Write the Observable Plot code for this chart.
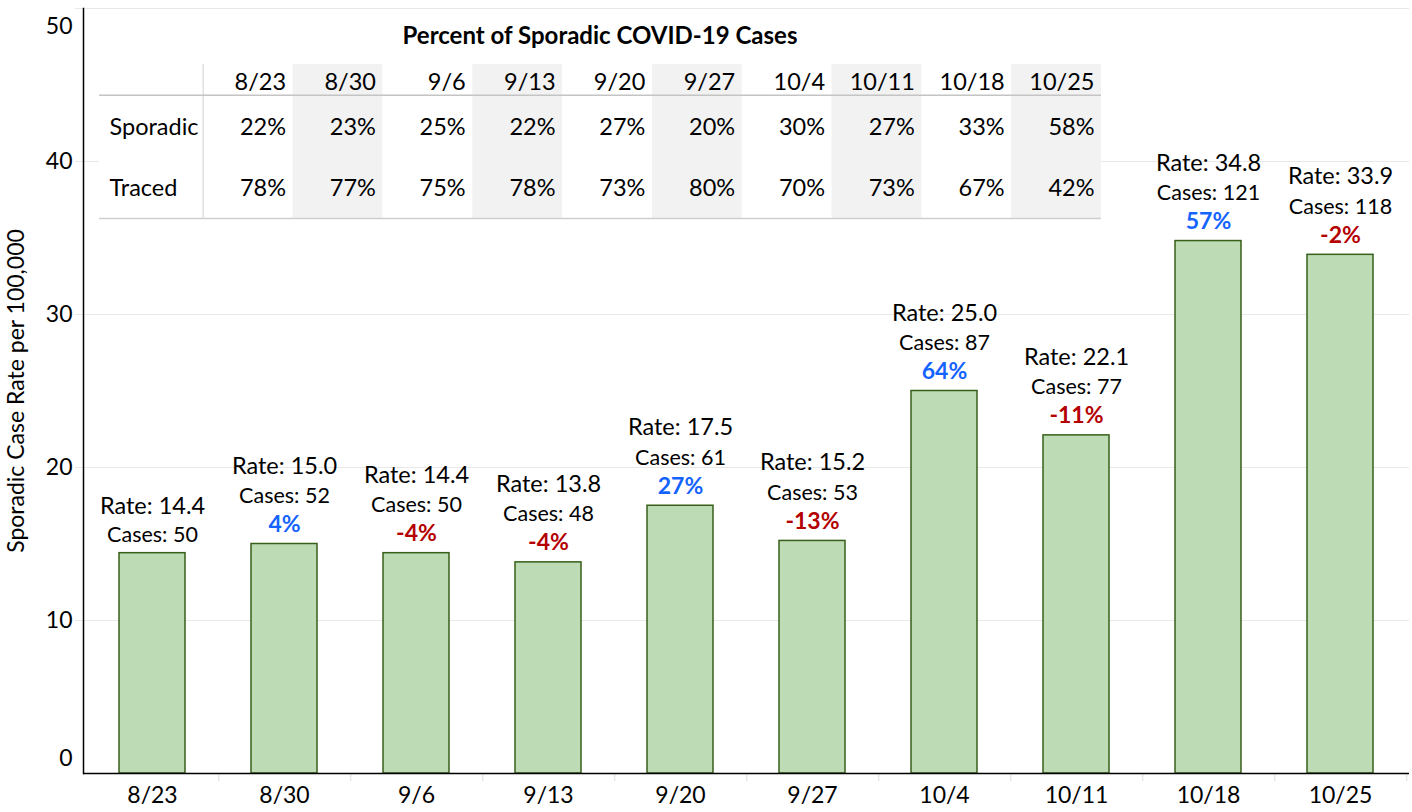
<!DOCTYPE html>
<html>
<head>
<meta charset="utf-8">
<script src="https://cdn.jsdelivr.net/npm/d3@7"></script>
<script src="https://cdn.jsdelivr.net/npm/@observablehq/plot@0.6"></script>
<style>
  html, body { margin: 0; padding: 0; background: #fff; }
  #wrap { position: relative; width: 1412px; height: 812px; font-family: Lato, sans-serif; }
  #wrap svg { position: absolute; }
  #ttl { position: absolute; left: 99px; top: 20px; width: 1002px; text-align: center;
         font: bold 24px Lato, sans-serif; color: #000; z-index: 3; }
</style>
</head>
<body>
<div id="wrap"><div id="ttl">Percent of Sporadic COVID-19 Cases</div></div>
<script>
// ---- data ----
const dates = ["8/23","8/30","9/6","9/13","9/20","9/27","10/4","10/11","10/18","10/25"];
const rates = [14.4, 15.0, 14.4, 13.8, 17.5, 15.2, 25.0, 22.1, 34.8, 33.9];
const cases = [50, 52, 50, 48, 61, 53, 87, 77, 121, 118];
const changes = [null, 4, -4, -4, 27, -13, 64, -11, 57, -2];
const sporadicPct = [22, 23, 25, 22, 27, 20, 30, 27, 33, 58];
const tracedPct = [78, 77, 75, 78, 73, 80, 70, 73, 67, 42];
const rowLabels = ["Sporadic", "Traced"];
const yTicks = [0, 10, 20, 30, 40, 50];
const yLabel = "Sporadic Case Rate per 100,000";

const rows = dates.map((d, i) => ({date: d, rate: rates[i], cases: cases[i], change: changes[i], i}));
const withChg = rows.filter(d => d.change != null);
const noChg = rows.filter(d => d.change == null);

const W = 1412, H = 812, mL = 83, mR = 3;
const step = (W - mL - mR) / dates.length;
const BLUE = "#1463ff", RED = "#b40000";

const main = Plot.plot({
  width: W, height: H,
  marginLeft: mL, marginRight: mR, marginTop: 8, marginBottom: 39,
  style: {fontFamily: "Lato, sans-serif", fontSize: "22px", color: "#000", background: "transparent", overflow: "visible"},
  x: {domain: dates, paddingInner: 0.5, paddingOuter: 0.25, label: null},
  y: {domain: [0, 50], label: null},
  marks: [
    Plot.gridY(yTicks.slice(1), {stroke: "#e8e8e8", strokeOpacity: 1}),
    Plot.axisY(yTicks.slice(1), {tickSize: 8, text: null, stroke: "#e8e8e8", label: null}),
    Plot.axisY(yTicks.slice(1, -1), {tickSize: 0, tickPadding: 11, fontSize: 23, label: null}),
    Plot.axisY(yTicks.slice(0, 1), {tickSize: 0, tickPadding: 11, fontSize: 23, dy: -15, label: null}),
    Plot.axisY(yTicks.slice(-1), {tickSize: 0, tickPadding: 11, fontSize: 23, dy: 18, label: null}),
    Plot.axisY([], {label: yLabel, labelAnchor: "center", labelOffset: 76, labelArrow: false, fontSize: 23}),
    Plot.axisX({tickSize: 0, tickPadding: 13, fontSize: 23, label: null}),
    Plot.axisX({text: null, tickSize: 8, stroke: "#dcdcdc", dx: step / 2, label: null}),
    Plot.barY(rows, {x: "date", y: "rate", fill: "#bddcb5", stroke: "#375f18", strokeWidth: 1.5}),
    Plot.ruleY([0], {stroke: "#000", strokeWidth: 1.5}),
    Plot.frame({anchor: "left", stroke: "#000", strokeWidth: 1.5}),
    Plot.text(withChg, {x: "date", y: "rate", text: d => `Rate: ${d.rate.toFixed(1)}`, dy: -78, fontSize: 23.5, fill: "#000"}),
    Plot.text(noChg, {x: "date", y: "rate", text: d => `Rate: ${d.rate.toFixed(1)}`, dy: -47, fontSize: 23.5, fill: "#000"}),
    Plot.text(withChg, {x: "date", y: "rate", text: d => `Cases: ${d.cases}`, dy: -48, fontSize: 21.5, fill: "#000"}),
    Plot.text(noChg, {x: "date", y: "rate", text: d => `Cases: ${d.cases}`, dy: -18, fontSize: 21.5, fill: "#000"}),
    Plot.text(withChg.filter(d => d.change > 0), {x: "date", y: "rate", text: d => `${d.change}%`, dy: -19.5, fontSize: 23, fontWeight: "bold", fill: BLUE}),
    Plot.text(withChg.filter(d => d.change < 0), {x: "date", y: "rate", text: d => `${d.change}%`, dy: -19.5, fontSize: 23, fontWeight: "bold", fill: RED})
  ]
});
main.style.left = "0px"; main.style.top = "0px";

// ---- table ----
const cols = dates.map((d, i) => ({date: d, i, sp: sporadicPct[i], tr: tracedPct[i]}));
const labelStart = -1.155;
const tbl = Plot.plot({
  width: 1002, height: 156,
  marginTop: 0, marginLeft: 0, marginRight: 0, marginBottom: 2,
  style: {fontFamily: "Lato, sans-serif", fontSize: "23.5px", color: "#000", background: "#fff", overflow: "visible"},
  x: {domain: [labelStart, dates.length], axis: null},
  y: {domain: [0, 2.5], range: [0, 154], axis: null},
  marks: [
    Plot.rect(cols.filter(d => d.i % 2 === 1), {x1: d => d.i, x2: d => d.i + 1, y1: () => 0, y2: () => 2.5, fill: "#f2f2f2"}),
    Plot.ruleX([0], {y1: () => 0, y2: () => 2.5, stroke: "#e0e0e0", strokeWidth: 1.5}),
    Plot.ruleY([0.5], {stroke: "#c4c4c4", strokeWidth: 1.5}),
    Plot.ruleY([2.5], {stroke: "#cfcfcf", strokeWidth: 1.5}),
    Plot.text(cols, {x: d => d.i + 1, y: () => 0.25, text: "date", dx: -7, dy: 3, textAnchor: "end", fontSize: 23.5, fill: "#000"}),
    Plot.text(cols, {x: d => d.i + 1, y: () => 1, text: d => `${d.sp}%`, dx: -7, dy: 1.5, textAnchor: "end", fontSize: 23.5, fill: "#000"}),
    Plot.text(cols, {x: d => d.i + 1, y: () => 2, text: d => `${d.tr}%`, dx: -7, dy: 1, textAnchor: "end", fontSize: 23.5, fill: "#000"}),
    Plot.text(rowLabels, {x: () => labelStart, y: (d, i) => i + 1, text: d => d, dx: 10, dy: 1, textAnchor: "start", fontSize: 23.5, fill: "#000"})
  ]
});
tbl.style.left = "99px"; tbl.style.top = "64px";

const wrap = document.getElementById("wrap");
wrap.insertBefore(main, wrap.firstChild);
wrap.insertBefore(tbl, document.getElementById("ttl"));
</script>
</body>
</html>
